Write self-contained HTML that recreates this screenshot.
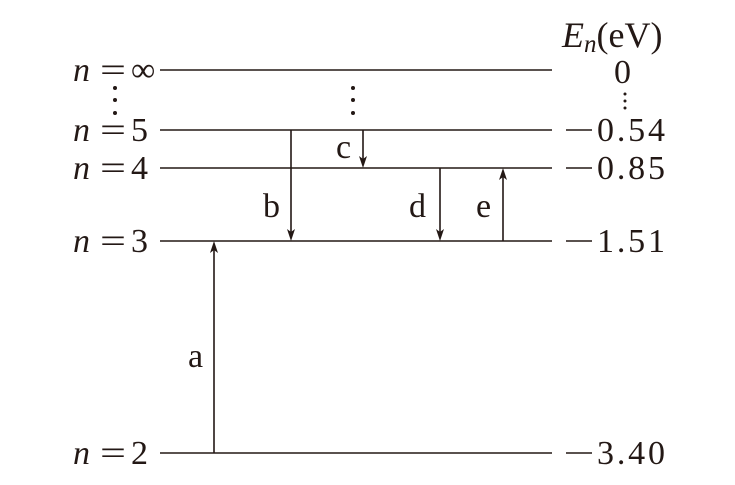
<!DOCTYPE html>
<html><head><meta charset="utf-8"><style>html,body{margin:0;padding:0;background:#fff}svg{display:block}</style></head>
<body>
<svg width="735" height="485" viewBox="0 0 735 485" xmlns="http://www.w3.org/2000/svg" font-family="Liberation Serif, serif" fill="#231815">
<g stroke="#231815" stroke-width="1.6">
<line x1="160" y1="70" x2="552" y2="70"/>
<line x1="160" y1="130" x2="552" y2="130"/>
<line x1="160" y1="168" x2="552" y2="168"/>
<line x1="160" y1="241" x2="552" y2="241"/>
<line x1="160" y1="453" x2="552" y2="453"/>
<line x1="291" y1="130" x2="291" y2="236"/>
<line x1="363" y1="130" x2="363" y2="163"/>
<line x1="440" y1="168" x2="440" y2="236"/>
<line x1="503" y1="241" x2="503" y2="173"/>
<line x1="214" y1="453" x2="214" y2="246"/>
<line x1="566" y1="130" x2="592" y2="130"/>
<line x1="566" y1="168" x2="592" y2="168"/>
<line x1="566" y1="241" x2="592" y2="241"/>
<line x1="566" y1="453" x2="592" y2="453"/>
</g>
<g>
<path d="M287,229 L291,241 L295,229 L291,232 Z"/>
<path d="M359,156 L363,168 L367,156 L363,159 Z"/>
<path d="M436,229 L440,241 L444,229 L440,232 Z"/>
<path d="M499,180 L503,168 L507,180 L503,177 Z"/>
<path d="M210,253 L214,241 L218,253 L214,250 Z"/>
<circle cx="353" cy="88" r="2"/><circle cx="353" cy="100" r="2"/><circle cx="353" cy="113" r="2"/>
<circle cx="115" cy="88" r="2"/><circle cx="115" cy="100" r="2"/><circle cx="115" cy="113" r="2"/>
<circle cx="625" cy="94" r="1.5"/><circle cx="625" cy="101" r="1.5"/><circle cx="625" cy="108" r="1.5"/>
</g>
<g font-size="34">
<g font-style="italic">
<text x="73" y="81">n</text><text x="73" y="141">n</text><text x="73" y="179">n</text><text x="73" y="252">n</text><text x="73" y="464">n</text>
</g>
<g>
<text x="100" y="81" textLength="26" lengthAdjust="spacingAndGlyphs">=</text>
<text x="100" y="141" textLength="26" lengthAdjust="spacingAndGlyphs">=</text>
<text x="100" y="179" textLength="26" lengthAdjust="spacingAndGlyphs">=</text>
<text x="100" y="252" textLength="26" lengthAdjust="spacingAndGlyphs">=</text>
<text x="100" y="464" textLength="26" lengthAdjust="spacingAndGlyphs">=</text>
</g>
<text x="131" y="81">∞</text>
<text x="131" y="141">5</text>
<text x="131" y="179">4</text>
<text x="131" y="252">3</text>
<text x="131" y="464">2</text>
<text x="562" y="47" font-size="36"><tspan font-style="italic">E</tspan><tspan font-style="italic" font-size="25" dy="5">n</tspan><tspan dy="-5">(eV)</tspan></text>
<text x="614" y="83">0</text>
<text x="597" y="141" textLength="68" lengthAdjust="spacing">0.54</text>
<text x="597" y="179" textLength="68" lengthAdjust="spacing">0.85</text>
<text x="597" y="252" textLength="68" lengthAdjust="spacing">1.51</text>
<text x="597" y="464" textLength="68" lengthAdjust="spacing">3.40</text>
<text x="336" y="158">c</text>
<text x="263" y="217">b</text>
<text x="409" y="217">d</text>
<text x="476" y="217">e</text>
<text x="188" y="367">a</text>
</g>
</svg>
</body></html>
